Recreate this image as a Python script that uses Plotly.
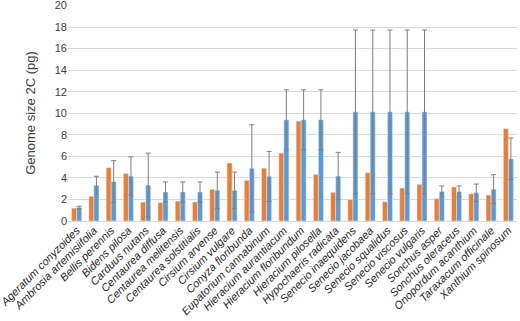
import plotly.graph_objects as go

species = ["Ageratum conyzoides", "Ambrosia artemisiifolia", "Bellis perennis", "Bidens pilosa",
           "Carduus nutans", "Centaurea diffusa", "Centaurea melitensis", "Centaurea solstitialis",
           "Cirsium arvense", "Cirsium vulgare", "Conyza floribunda", "Eupatorium cannabinum",
           "Hieracium aurantiacum", "Hieracium floribundum", "Hieracium pilosella", "Hypochaeris radicata",
           "Senecio inaequidens", "Senecio jacobaea", "Senecio squalidus", "Senecio viscosus",
           "Senecio vulgaris", "Sonchus asper", "Sonchus oleraceus", "Onopordum acanthium",
           "Taraxacum officinale", "Xanthium spinosum"]

orange_vals = [1.2, 2.3, 4.95, 4.4, 1.75, 1.7, 1.85, 1.76, 2.94, 5.38, 3.77, 4.9, 6.3, 9.27,
               4.33, 2.66, 1.98, 4.48, 1.79, 3.06, 3.4, 2.07, 3.15, 2.53, 2.41, 8.56]

blue_vals = [1.25, 3.31, 3.65, 4.17, 3.33, 2.69, 2.69, 2.69, 2.84, 2.84, 4.88, 4.14, 9.39, 9.39,
             9.39, 4.17, 10.13, 10.13, 10.13, 10.13, 10.13, 2.74, 2.74, 2.63, 2.95, 5.77]

blue_err = [0.12, 0.84, 1.95, 1.78, 2.97, 0.93, 0.93, 0.93, 1.7, 1.7, 4.05, 2.32, 2.79, 2.79,
            2.79, 2.2, 7.6, 7.6, 7.6, 7.6, 7.6, 0.51, 0.51, 0.8, 1.35, 1.93]

y_ticks = [0, 2, 4, 6, 8, 10, 12, 14, 16, 18, 20]

fig = go.Figure()
fig.add_trace(go.Bar(x=species, y=orange_vals, marker_color="#ED7D31", name="A"))
fig.add_trace(go.Bar(x=species, y=blue_vals, marker_color="#5B9BD5", name="B",
                     error_y=dict(type="data", array=blue_err, visible=True,
                                  color="#7F7F7F", thickness=1, width=2.5)))

fig.update_layout(
    width=520, height=321,
    margin=dict(l=68, r=3, t=5, b=100),
    paper_bgcolor="white", plot_bgcolor="white",
    barmode="group", bargap=0.42, bargroupgap=0,
    showlegend=False,
    font=dict(family="Liberation Sans, Arial", color="#404040"),
)
fig.update_xaxes(tickangle=-45, tickfont=dict(size=11, style="italic", color="#262626"),
                 showgrid=False, ticks="", showline=False, automargin=False)
fig.update_yaxes(range=[0, 20.05], autorange=False, tickmode="array", tickvals=y_ticks,
                 ticklabeloverflow="allow",
                 showgrid=True, gridcolor="#D9D9D9",
                 zeroline=True, zerolinecolor="#D9D9D9", zerolinewidth=1, automargin=False,
                 tickfont=dict(size=11, color="#404040"),
                 title=dict(text="Genome size 2C (pg)", font=dict(size=13, color="#404040"), standoff=16))

fig.write_html("out.html", config={"displayModeBar": False},
               post_script="document.body.style.margin='0';")
